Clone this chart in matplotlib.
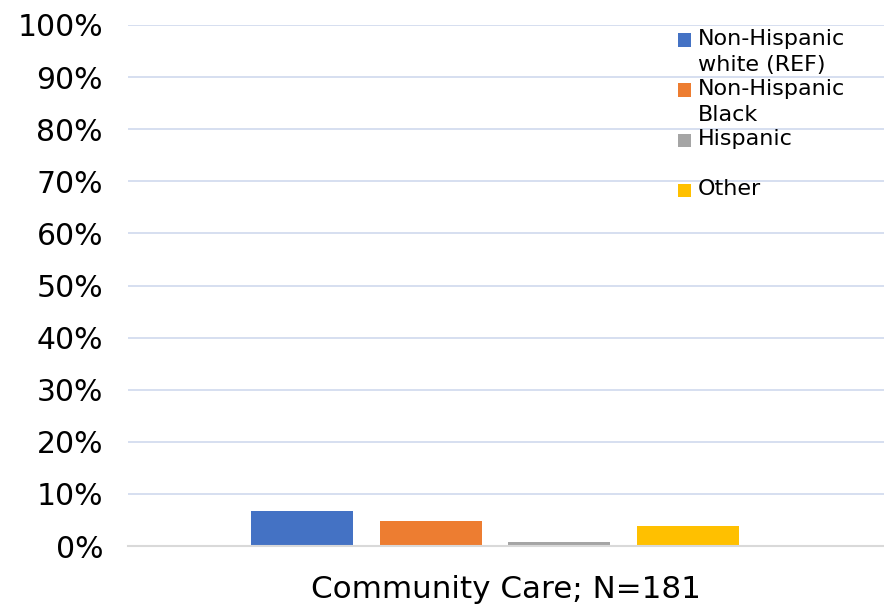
import matplotlib
matplotlib.use("Agg")
import matplotlib.pyplot as plt
from matplotlib.patches import Rectangle
from matplotlib.ticker import PercentFormatter

categories = ["Non-Hispanic\nwhite (REF)", "Non-Hispanic\nBlack", "Hispanic", "Other"]
values = [6.7, 4.8, 0.8, 3.8]
colors = ["#4472C4", "#ED7D31", "#A5A5A5", "#FFC000"]
group_label = "Community Care; N=181"
yticks = [0, 10, 20, 30, 40, 50, 60, 70, 80, 90, 100]

plt.rcParams['font.family'] = ['DejaVu Sans']
fig = plt.figure(figsize=(8.84, 6.05), dpi=100)
ax = fig.add_axes([128/884, 59/605, 756/884, 521/605])

x = list(range(len(values)))
ax.bar(x, values, width=0.794, color=colors, zorder=3)

ax.set_xlim(-1.356, 4.528)
ax.set_ylim(0, 100)
ax.set_yticks(yticks)
ax.yaxis.set_major_formatter(PercentFormatter(decimals=0))
ax.tick_params(axis='y', length=0, pad=18, labelsize=21.5)
ax.set_xticks([])
ax.grid(axis='y', color='#D3DCEF', linewidth=1.3, zorder=0)
for s in ['top', 'right', 'left']:
    ax.spines[s].set_visible(False)
ax.spines['bottom'].set_color('#D9D9D9')
ax.spines['bottom'].set_linewidth(1.5)
ax.spines['bottom'].set_zorder(4)
ax.set_xlabel(group_label, fontsize=22.3, labelpad=21)

# legend (manual, wrapped labels with square at first line)
y0 = (546 - 40) / 521
dy = 50 / 521
sq_w = 13 / 756
sq_h = 13 / 521
for i, (lab, c) in enumerate(zip(categories, colors)):
    yc = y0 - i * dy
    ax.add_patch(Rectangle((0.728, yc - sq_h / 2), sq_w, sq_h, transform=ax.transAxes,
                           facecolor=c, edgecolor='none', clip_on=False, zorder=5))
    ax.text(0.754, yc + 11 / 521, lab, transform=ax.transAxes, fontsize=16,
            va='top', ha='left', linespacing=1.4, zorder=5)

fig.savefig("out.png", dpi=100)
